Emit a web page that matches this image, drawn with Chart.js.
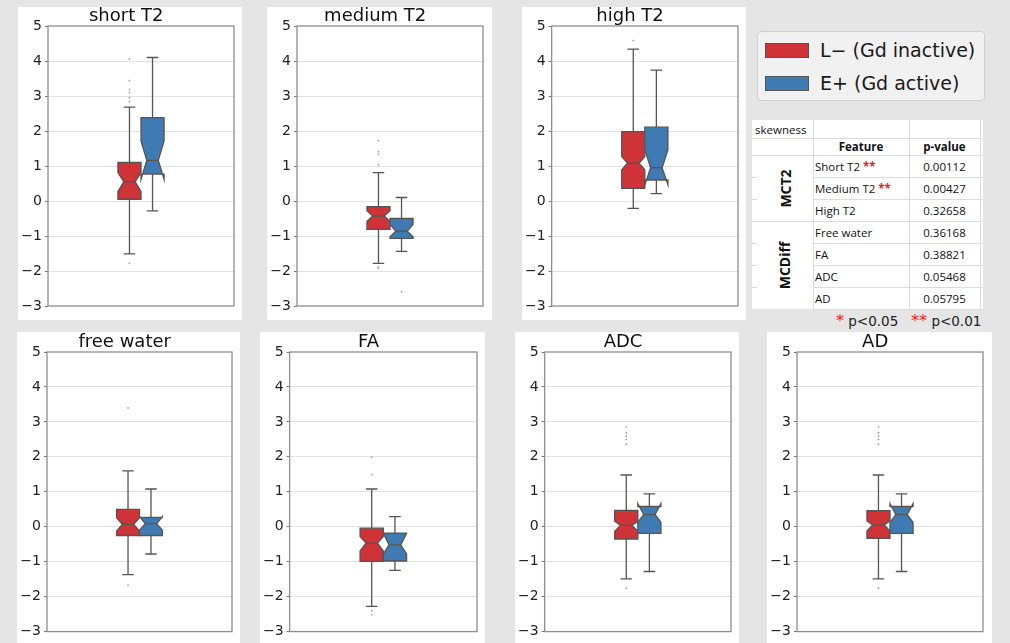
<!DOCTYPE html>
<html>
<head>
<meta charset="utf-8">
<script src="https://cdn.jsdelivr.net/npm/chart.js@4.4.1/dist/chart.umd.min.js"></script>
<style>
  html,body{margin:0;padding:0;}
  body{width:1010px;height:643px;background:#e5e5e5;position:relative;overflow:hidden;font-family:"DejaVu Sans",sans-serif;}
  .card{position:absolute;background:#fff;}
  .card canvas{display:block;}
  #legend{position:absolute;left:757px;top:31px;width:226px;height:68px;background:#f1f1f1;border:1px solid #cfcfcf;border-radius:4px;}
  .lg{position:absolute;left:7px;height:20px;display:flex;align-items:center;font-size:19px;color:#1a1a1a;white-space:nowrap;}
  .sw{width:44px;height:15px;border:1px solid #555;margin-right:11px;box-sizing:border-box;}
  #table{position:absolute;left:752px;top:120px;width:231px;height:189px;background:#fff;font-family:"Open Sans",sans-serif;font-size:11.5px;color:#111;}
  #table .c{position:absolute;box-sizing:border-box;display:flex;align-items:center;white-space:pre;}
  .vl{position:absolute;width:1px;background:#dcdcdc;}
  .hl{position:absolute;height:1px;background:#dcdcdc;}
  .rot{position:absolute;transform:rotate(-90deg);font-weight:bold;font-size:14px;white-space:nowrap;}
  #foot{position:absolute;top:311px;left:836px;font-size:13.5px;color:#222;white-space:nowrap;}
  .red{color:#ee1c1c;}
</style>
</head>
<body>
<div id="cards"></div>
<div id="legend"></div>
<div id="table"></div>
<div id="foot"><span class="red" style="font-size:16px">*</span> p&lt;0.05&nbsp;&nbsp;&nbsp;<span class="red" style="font-size:16px">**</span> p&lt;0.01</div>
<script>
// ---------------- data ----------------
const features = ['short T2','medium T2','high T2','free water','FA','ADC','AD'];
const groups = ['L\u2212 (Gd inactive)','E+ (Gd active)'];

// L- (Gd inactive)
const L_whisHi  = [2.68,  0.81, 4.34, 1.60,  1.08,  1.48,  1.48];
const L_q3      = [1.10, -0.16, 1.98, 0.50, -0.04,  0.47,  0.46];
const L_notchHi = [0.81, -0.28, 1.27, 0.26, -0.28,  0.16,  0.17];
const L_med     = [0.55, -0.43, 1.08, 0.07, -0.47,  0.04,  0.05];
const L_notchLo = [0.27, -0.58, 0.89,-0.12, -0.69, -0.13, -0.12];
const L_q1      = [0.05, -0.81, 0.36,-0.25, -0.99, -0.35, -0.33];
const L_whisLo  = [-1.51,-1.78,-0.21,-1.37, -2.28, -1.49, -1.49];
const L_outliers = [[4.06,3.44,3.19,3.10,2.95,2.84,-1.78],[1.72,1.41,1.34,1.03,-1.88,-1.92],[4.58],[3.40,-1.67],[1.99,1.49,-2.40,-2.52],[2.86,2.69,2.59,2.50,2.36,-1.76],[2.86,2.69,2.59,2.50,2.36,-1.76]];

// E+ (Gd active)
const E_whisHi  = [4.10,  0.10, 3.74, 1.08,  0.29,  0.94,  0.94];
const E_q3      = [2.38, -0.50, 2.11, 0.27, -0.18,  0.58,  0.58];
const E_notchHi = [1.72, -0.67, 1.46, 0.29, -0.19,  0.66,  0.66];
const E_med     = [1.16, -0.86, 0.95, 0.09, -0.52,  0.35,  0.35];
const E_notchLo = [0.62, -1.02, 0.46,-0.10, -0.78,  0.13,  0.12];
const E_q1      = [0.77, -1.07, 0.60,-0.25, -0.98, -0.19, -0.19];
const E_whisLo  = [-0.28,-1.44, 0.21,-0.78, -1.25, -1.28, -1.28];
const E_outliers = [[],[-2.59],[],[],[],[],[]];

const yTicks = [-3,-2,-1,0,1,2,3,4,5];

// table
const tableFeatures = ['Short T2','Medium T2','High T2','Free water','FA','ADC','AD'];
const tablePvalues  = ['0.00112','0.00427','0.32658','0.36168','0.38821','0.05468','0.05795'];
const tableStars    = ['**','**','','','','',''];
const tableGroups   = ['MCT2','MCDiff'];
const tableGroupSizes = [3,4];

// ---------------- style ----------------
const COLORS = ['#cf3337','#3f7bb2'];
const EDGE = '#555555';
const OFFSETS = [-0.062, 0.062];
const HALF = 0.062;

Chart.defaults.font.family = "'DejaVu Sans', sans-serif";
Chart.defaults.font.size = 14;
Chart.defaults.color = '#222';

// card layout: left, top, width, height, plotLeftInCard, padRight, padTop, padBottom
const LAYOUT = [
  [18,7,224,313,30,8,0,14],
  [267,7,225,313,30,9,0,14],
  [522,7,224,313,29,8,0,14],
  [17,332,223,311,30,8,1,11],
  [260,332,225,311,29,8,1,11],
  [515,332,224,311,29,8,1,11],
  [767,332,225,311,30,9,1,11]
];

const statsFor = (i) => [
  {pos:OFFSETS[0], color:COLORS[0], wl:L_whisLo[i], q1:L_q1[i], nl:L_notchLo[i], med:L_med[i], nh:L_notchHi[i], q3:L_q3[i], wh:L_whisHi[i]},
  {pos:OFFSETS[1], color:COLORS[1], wl:E_whisLo[i], q1:E_q1[i], nl:E_notchLo[i], med:E_med[i], nh:E_notchHi[i], q3:E_q3[i], wh:E_whisHi[i]}
];

const boxPlugin = {
  id:'notchBoxes',
  beforeDatasetsDraw(chart){
    const st = chart.$boxStats; if(!st) return;
    const {ctx} = chart; const x = chart.scales.x, y = chart.scales.y;
    ctx.save();
    st.forEach(s=>{
      const cx = x.getPixelForValue(s.pos);
      const L = x.getPixelForValue(s.pos-HALF), R = x.getPixelForValue(s.pos+HALF);
      const w = R-L;
      const Y = v=>y.getPixelForValue(v);
      ctx.strokeStyle = EDGE; ctx.lineWidth = 1.3;
      ctx.beginPath();
      ctx.moveTo(cx,Y(s.q1)); ctx.lineTo(cx,Y(s.wl));
      ctx.moveTo(cx,Y(s.q3)); ctx.lineTo(cx,Y(s.wh));
      ctx.moveTo(cx-w/4,Y(s.wl)); ctx.lineTo(cx+w/4,Y(s.wl));
      ctx.moveTo(cx-w/4,Y(s.wh)); ctx.lineTo(cx+w/4,Y(s.wh));
      ctx.stroke();
      const cl = L + w/4, cr = R - w/4;
      ctx.beginPath();
      ctx.moveTo(L,Y(s.q1)); ctx.lineTo(R,Y(s.q1)); ctx.lineTo(R,Y(s.nl));
      ctx.lineTo(cr,Y(s.med)); ctx.lineTo(R,Y(s.nh)); ctx.lineTo(R,Y(s.q3));
      ctx.lineTo(L,Y(s.q3)); ctx.lineTo(L,Y(s.nh)); ctx.lineTo(cl,Y(s.med));
      ctx.lineTo(L,Y(s.nl)); ctx.closePath();
      ctx.fillStyle = s.color; ctx.fill(); ctx.stroke();
      ctx.beginPath(); ctx.moveTo(cl,Y(s.med)); ctx.lineTo(cr,Y(s.med)); ctx.stroke();
    });
    ctx.restore();
  },
  afterDraw(chart){
    const {ctx, chartArea:a} = chart;
    ctx.save(); ctx.strokeStyle='#8e8e8e'; ctx.lineWidth=1.3;
    ctx.strokeRect(a.left, a.top, a.right-a.left, a.bottom-a.top);
    ctx.restore();
  }
};

const cardsEl = document.getElementById('cards');
features.forEach((f,i)=>{
  const [l,t,w,h,yw,pr,pt,pb] = LAYOUT[i];
  const d = document.createElement('div'); d.className='card';
  d.style.cssText = `left:${l}px;top:${t}px;width:${w}px;height:${h}px;`;
  const c = document.createElement('canvas'); c.width=w; c.height=h; c.style.width=w+'px'; c.style.height=h+'px';
  d.appendChild(c); cardsEl.appendChild(d);
  const datasets = [
    {type:'scatter', data:L_outliers[i].map(v=>({x:OFFSETS[0],y:v})), pointRadius:0.9, pointBackgroundColor:'#a0a0a0', pointBorderWidth:0},
    {type:'scatter', data:E_outliers[i].map(v=>({x:OFFSETS[1],y:v})), pointRadius:0.9, pointBackgroundColor:'#a0a0a0', pointBorderWidth:0}
  ];
  const chart = new Chart(c, {
    type:'scatter',
    data:{datasets},
    options:{
      responsive:false, animation:false, devicePixelRatio:1,
      layout:{padding:{left:0,right:pr,top:pt,bottom:pb}},
      plugins:{
        legend:{display:false}, tooltip:{enabled:false},
        title:{display:true, text:f, color:'#111', font:{size:18, weight:'normal', lineHeight:1.0}, padding:{top:0,bottom:1}}
      },
      scales:{
        x:{type:'linear', min:-0.5, max:0.5, display:false},
        y:{type:'linear', min:-3, max:5,
           afterBuildTicks:(s)=>{s.ticks = yTicks.map(v=>({value:v}));},
           border:{display:false},
           grid:{color:(ctx)=> (ctx.tick && (ctx.tick.value===5||ctx.tick.value===-3)) ? 'rgba(0,0,0,0)' : '#e2e2e2',
                 lineWidth:1, borderDash:[1.5,1.5], drawTicks:true, tickLength:3, tickColor:'#777', tickBorderDash:[], tickWidth:1},
           ticks:{color:'#222', padding:3, font:{size:14},
                  callback:(v)=> v<0 ? '\u2212'+Math.abs(v) : String(v)}
        }
      }
    },
    plugins:[boxPlugin]
  });
  chart.$boxStats = statsFor(i);
  const delta = yw - chart.chartArea.left;
  chart.options.layout.padding.left = Math.max(0, delta);
  chart.update('none');
});

// legend
const lg = document.getElementById('legend');
groups.forEach((g,k)=>{
  const r = document.createElement('div'); r.className='lg'; r.style.top = (k===0? 8 : 41)+'px';
  r.innerHTML = `<div class="sw" style="background:${COLORS[k]}"></div><span>${g}</span>`;
  lg.appendChild(r);
});

// table
const tb = document.getElementById('table');
const colX = [0,61,157,228,231];
const rowH = [18,17,22,22,22,22,22,22,22];
const rowY = [0]; rowH.forEach(h=>rowY.push(rowY[rowY.length-1]+h));
function cell(x,y,w,h,html,style){
  const e=document.createElement('div'); e.className='c';
  e.style.cssText=`left:${x}px;top:${y}px;width:${w}px;height:${h}px;`+(style||'');
  e.innerHTML=html; tb.appendChild(e); return e;
}
function vline(x,y,h){const e=document.createElement('div');e.className='vl';e.style.cssText=`left:${x}px;top:${y}px;height:${h}px;`;tb.appendChild(e);}
function hline(x,y,w){const e=document.createElement('div');e.className='hl';e.style.cssText=`left:${x}px;top:${y}px;width:${w}px;`;tb.appendChild(e);}
cell(3,rowY[0],58,rowH[0],'skewness');
cell(colX[1],rowY[1],colX[2]-colX[1],rowH[1],'Feature','justify-content:center;font-weight:bold;');
cell(colX[2],rowY[1],colX[3]-colX[2],rowH[1],'p-value','justify-content:center;font-weight:bold;');
tableFeatures.forEach((f,k)=>{
  const y=rowY[k+2];
  const st = tableStars[k] ? `<span>${f}&nbsp;</span><span class="red" style="font-weight:bold">${tableStars[k]}</span>` : `<span>${f}</span>`;
  cell(colX[1]+2,y,colX[2]-colX[1]-2,22,st,'');
  cell(colX[2],y,colX[3]-colX[2],22,tablePvalues[k],'justify-content:center;');
});
let gy=rowY[2];
tableGroups.forEach((g,k)=>{
  const h = tableGroupSizes[k]*22;
  const e=document.createElement('div'); e.className='rot'; e.textContent=g;
  tb.appendChild(e);
  const wd=e.offsetWidth, ht=e.offsetHeight;
  e.style.left=(colX[1]/2 - wd/2 + 2)+'px'; e.style.top=(gy+h/2-ht/2)+'px';
  gy+=h;
});
[colX[1],colX[2],colX[3]].forEach(x=>vline(x,0,189));
hline(0,rowY[1],231); hline(0,rowY[2],231); hline(0,rowY[5],231);
[3,4,6,7,8,9].forEach(r=>hline(colX[1],rowY[r],231-colX[1]));
[3,4,6,7,8].forEach(r=>hline(0,rowY[r],5));
</script>
</body>
</html>
